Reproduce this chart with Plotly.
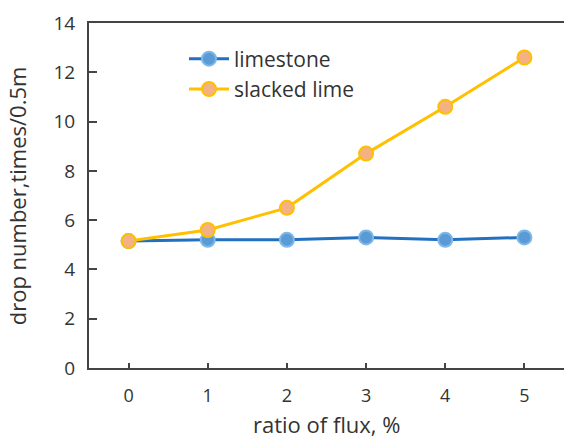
import plotly.graph_objects as go

flux_ratio = [0, 1, 2, 3, 4, 5]
limestone = [5.15, 5.2, 5.2, 5.3, 5.2, 5.3]
slacked_lime = [5.15, 5.6, 6.5, 8.7, 10.6, 12.6]
x_ticks = [0, 1, 2, 3, 4, 5]
y_ticks = [0, 2, 4, 6, 8, 10, 12, 14]
x_title = "ratio of flux, %"
y_title = "drop number,times/0.5m"

font_family = "Open Sans, Lato, sans-serif"
text_color = "#333333"

fig = go.Figure()
fig.add_trace(go.Scatter(
    x=flux_ratio, y=limestone, name="limestone", mode="lines+markers",
    line=dict(color="#2370C0", width=3),
    marker=dict(size=14, color="#5B9BD5", line=dict(color="#7DB8E8", width=2)),
))
fig.add_trace(go.Scatter(
    x=flux_ratio, y=slacked_lime, name="slacked lime", mode="lines+markers",
    line=dict(color="#FFC000", width=3),
    marker=dict(size=14, color="#F4B183", line=dict(color="#FFC000", width=2)),
))

# axis titles placed as paper-anchored annotations so they can sit close to the page edges
fig.add_annotation(
    text=x_title, xref="paper", yref="paper", x=0.5, y=-0.162,
    xanchor="center", yanchor="middle", showarrow=False,
    font=dict(size=22, color=text_color),
)
fig.add_annotation(
    text=y_title, xref="paper", yref="paper", x=-0.152, y=0.5,
    xanchor="center", yanchor="middle", textangle=-90, showarrow=False,
    font=dict(size=22, color=text_color),
)

fig.update_layout(
    width=564, height=438,
    margin=dict(l=89, r=0, t=23, b=70),
    paper_bgcolor="white", plot_bgcolor="white",
    font=dict(family=font_family, size=20, color=text_color),
    showlegend=True,
    legend=dict(
        x=0.2, y=0.955, xanchor="left", yanchor="top",
        bgcolor="rgba(0,0,0,0)", font=dict(size=21, color=text_color),
        itemwidth=40, tracegroupgap=0,
    ),
    xaxis=dict(
        range=[-0.5, 5.5], tickvals=x_ticks, ticktext=[str(v) for v in x_ticks],
        showgrid=False, zeroline=False,
        showline=True, linecolor="#444444", linewidth=2, mirror=True,
        ticks="inside", ticklen=5, tickwidth=1.5, tickcolor="#444444",
        ticklabelstandoff=10, tickfont=dict(size=18),
    ),
    yaxis=dict(
        range=[0, 14], tickvals=y_ticks,
        showgrid=False, zeroline=False,
        showline=True, linecolor="#444444", linewidth=2,
        ticks="inside", ticklen=8, tickwidth=1.5, tickcolor="#444444",
        ticklabelstandoff=8, tickfont=dict(size=19),
    ),
)

fig.write_html("out.html")
